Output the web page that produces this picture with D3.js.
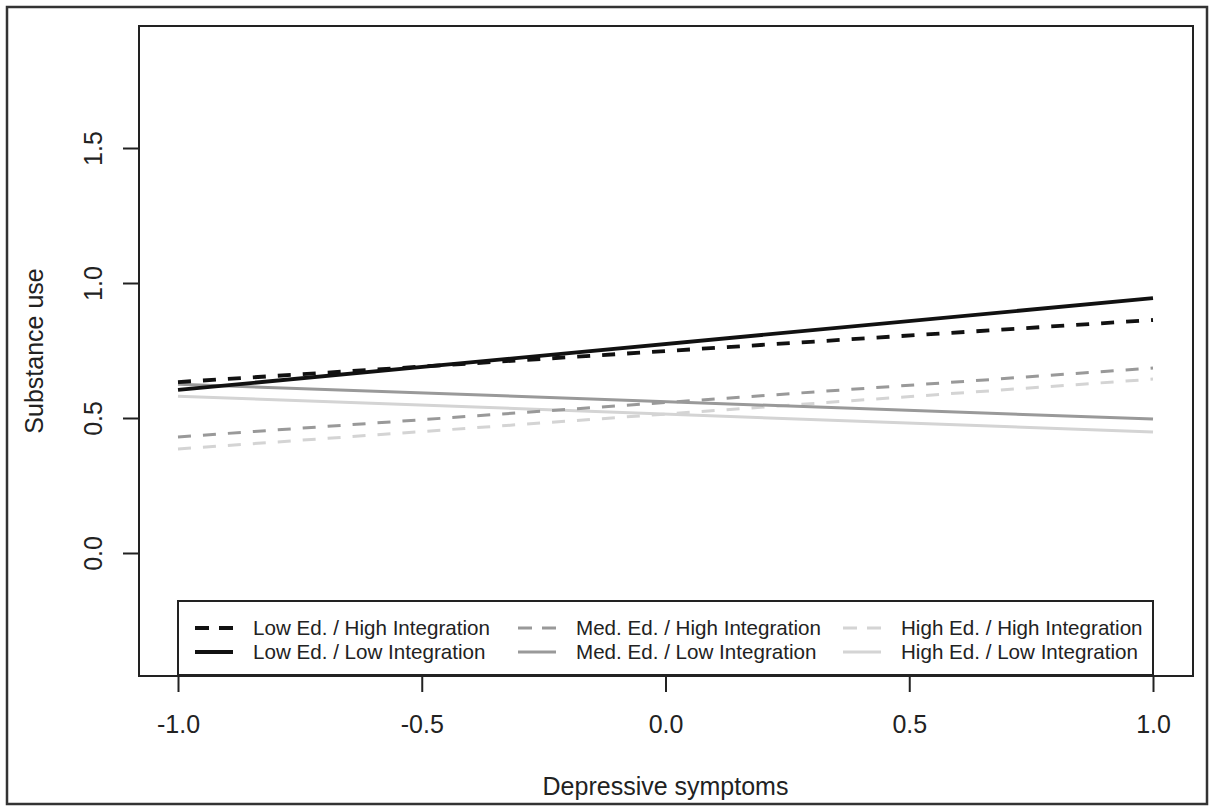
<!DOCTYPE html>
<html>
<head>
<meta charset="utf-8">
<script src="https://cdn.jsdelivr.net/npm/d3@7"></script>
<style>
  html, body { margin: 0; padding: 0; background: #fff; }
  svg { display: block; }
  text { font-family: "Liberation Sans", Arial, sans-serif; fill: #222; }
</style>
</head>
<body>
<svg id="chart" width="1209" height="806"></svg>
<script>
// ---- data ----
const xValues = [-1, 1];
const lowEdHighInt = [0.633, 0.863];
const lowEdLowInt = [0.604, 0.944];
const medEdHighInt = [0.430, 0.685];
const medEdLowInt = [0.625, 0.496];
const highEdHighInt = [0.385, 0.644];
const highEdLowInt = [0.581, 0.448];
const seriesLabels = [
  "Low Ed. / High Integration", "Low Ed. / Low Integration",
  "Med. Ed. / High Integration", "Med. Ed. / Low Integration",
  "High Ed. / High Integration", "High Ed. / Low Integration"
];
const xTicks = [-1, -0.5, 0, 0.5, 1];
const yTicks = [0, 0.5, 1, 1.5];
const xTitle = "Depressive symptoms";
const yTitle = "Substance use";

// ---- styles ----
const styles = [
  { color: "#111", width: 3.8, dash: "13,12" },
  { color: "#111", width: 3.8, dash: null },
  { color: "#999", width: 3, dash: "13,12" },
  { color: "#999", width: 3, dash: null },
  { color: "#d4d4d4", width: 3, dash: "13,12" },
  { color: "#d4d4d4", width: 3, dash: null }
];
const seriesValues = [lowEdHighInt, lowEdLowInt, medEdHighInt, medEdLowInt, highEdHighInt, highEdLowInt];

const svg = d3.select("#chart");
const box = { left: 139, top: 26, right: 1193, bottom: 676 };

const x = d3.scaleLinear().domain([-1, 1]).range([178, 1153]);
const y = d3.scaleLinear().domain([-0.4556, 1.9519]).range([box.bottom, box.top]);

// outer border
svg.append("rect").attr("x", 7).attr("y", 7).attr("width", 1200).attr("height", 797)
  .attr("fill", "none").attr("stroke", "#333").attr("stroke-width", 2.5);

// lines (light first, black on top)
const line = d3.line().x((d, i) => x(xValues[i])).y(d => y(d));
const order = [5, 4, 3, 2, 1, 0];
order.forEach(i => {
  const s = styles[i];
  svg.append("path").datum(seriesValues[i])
    .attr("d", line)
    .attr("fill", "none")
    .attr("stroke", s.color)
    .attr("stroke-width", s.width)
    .attr("stroke-dasharray", s.dash)
    .attr("stroke-linecap", "butt");
});

// x axis
const xAxis = d3.axisBottom(x).tickValues(xTicks).tickSize(16).tickPadding(0)
  .tickFormat(d => d.toFixed(1));
const gx = svg.append("g").attr("transform", `translate(0,${box.bottom})`).call(xAxis);
gx.select(".domain").remove();
gx.selectAll(".tick line").attr("stroke", "#222").attr("stroke-width", 2);
gx.selectAll(".tick text").attr("font-size", 25).attr("fill", "#222")
  .attr("dy", null).attr("y", 57);

// y axis
const yAxis = d3.axisLeft(y).tickValues(yTicks).tickSize(16).tickPadding(0)
  .tickFormat(d => d.toFixed(1));
const gy = svg.append("g").attr("transform", `translate(${box.left},0)`).call(yAxis);
gy.select(".domain").remove();
gy.selectAll(".tick line").attr("stroke", "#222").attr("stroke-width", 2);
gy.selectAll(".tick text").attr("font-size", 25).attr("fill", "#222")
  .attr("x", null).attr("dy", null)
  .attr("text-anchor", "middle")
  .attr("transform", "translate(-37,0) rotate(-90)");

// plot box
svg.append("rect").attr("x", box.left).attr("y", box.top)
  .attr("width", box.right - box.left).attr("height", box.bottom - box.top)
  .attr("fill", "none").attr("stroke", "#222").attr("stroke-width", 2);

// axis titles
svg.append("text").attr("x", x(0)).attr("y", 795).attr("text-anchor", "middle")
  .attr("font-size", 25).text(xTitle);
svg.append("text").attr("transform", `translate(43,${(box.top + box.bottom) / 2}) rotate(-90)`)
  .attr("text-anchor", "middle").attr("font-size", 25).text(yTitle);

// legend
const lg = svg.append("g");
lg.append("rect").attr("x", x(-1)).attr("y", 601).attr("width", x(1) - x(-1)).attr("height", 74)
  .attr("fill", "#fff").attr("stroke", "#222").attr("stroke-width", 2);
const colX = [195, 518, 843];
const rowY = [628, 652];
seriesLabels.forEach((lab, i) => {
  const c = Math.floor(i / 2), r = i % 2;
  const s = styles[i];
  lg.append("line").attr("x1", colX[c]).attr("x2", colX[c] + 38)
    .attr("y1", rowY[r]).attr("y2", rowY[r])
    .attr("stroke", s.color).attr("stroke-width", s.width)
    .attr("stroke-dasharray", s.dash ? "14,10" : null);
  lg.append("text").attr("x", colX[c] + 58).attr("y", rowY[r] + 7)
    .attr("font-size", 20.6).text(lab);
});
</script>
</body>
</html>
